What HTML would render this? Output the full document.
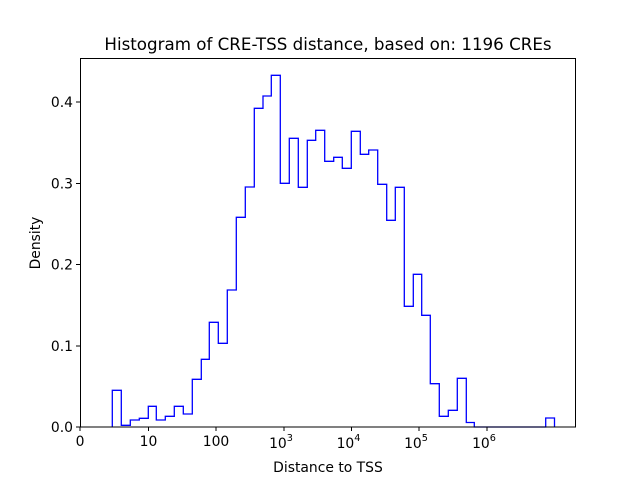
<!DOCTYPE html>
<html><head><meta charset="utf-8"><style>body{margin:0;background:#fff}svg{display:block}text{font-family:"DejaVu Sans","Liberation Sans",sans-serif;fill:#000}</style></head><body>
<svg width="640" height="480" viewBox="0 0 640 480">
<text x="328" y="50" font-size="16.7" text-anchor="middle">Histogram of CRE-TSS distance, based on: 1196 CREs</text>
<path fill="none" stroke="#0000ff" stroke-width="1.3" d="M112.3,427 V390.3 H121.3 V425.3 H130.3 V420 H139.3 V418.3 H148.3 V406.3 H156.3 V420 H165.3 V416.3 H174.3 V406.3 H183.3 V414 H192.3 V379.3 H201.3 V359.3 H209.3 V322.3 H218.3 V343.3 H227.3 V290 H236.3 V217.3 H245.3 V187 H254.3 V108.3 H263 V96 H271.3 V75.3 H280.3 V183.3 H289.3 V138.3 H298.3 V187.3 H307.3 V140.3 H315.7 V130.3 H324.7 V161.3 H333.7 V157.3 H342.3 V168.3 H351.3 V131.3 H360.3 V154.3 H368.7 V150 H377.7 V184.3 H386.7 V220.3 H395.3 V187.3 H404.3 V306.3 H413.3 V274.3 H421.7 V315.3 H430.3 V383.7 H439.3 V416.3 H448.3 V410.3 H457.3 V378.3 H466.3 V422.5 H474.3 V427 H545.7 V418 H554.5 V427"/>
<rect x="80.5" y="58.5" width="495" height="368.5" fill="none" stroke="#000" stroke-width="1"/>
<g stroke="#000" stroke-width="1">
<line x1="80" y1="427" x2="80" y2="431"/><line x1="148.5" y1="427" x2="148.5" y2="431"/><line x1="216" y1="427" x2="216" y2="431"/><line x1="284" y1="427" x2="284" y2="431"/><line x1="351.5" y1="427" x2="351.5" y2="431"/><line x1="419" y1="427" x2="419" y2="431"/><line x1="487" y1="427" x2="487" y2="431"/>
<line x1="76" y1="427" x2="80" y2="427"/><line x1="76" y1="346" x2="80" y2="346"/><line x1="76" y1="264.5" x2="80" y2="264.5"/><line x1="76" y1="183.5" x2="80" y2="183.5"/><line x1="76" y1="102" x2="80" y2="102"/>
</g>
<g font-size="13.9" text-anchor="end">
<text x="73" y="432">0.0</text><text x="73" y="351">0.1</text><text x="73" y="269.5">0.2</text><text x="73" y="188.5">0.3</text><text x="73" y="107">0.4</text>
</g>
<g font-size="13.9" text-anchor="middle">
<text x="80" y="446">0</text><text x="148.5" y="446">10</text><text x="216" y="446">100</text>
<text x="281" y="448">10<tspan font-size="9.7" dy="-7">3</tspan></text>
<text x="348.5" y="448">10<tspan font-size="9.7" dy="-7">4</tspan></text>
<text x="416" y="448">10<tspan font-size="9.7" dy="-7">5</tspan></text>
<text x="484" y="448">10<tspan font-size="9.7" dy="-7">6</tspan></text>
<text x="328" y="472">Distance to TSS</text>
</g>
<text font-size="13.9" text-anchor="middle" transform="translate(40,243) rotate(-90)">Density</text>
</svg>
</body></html>
